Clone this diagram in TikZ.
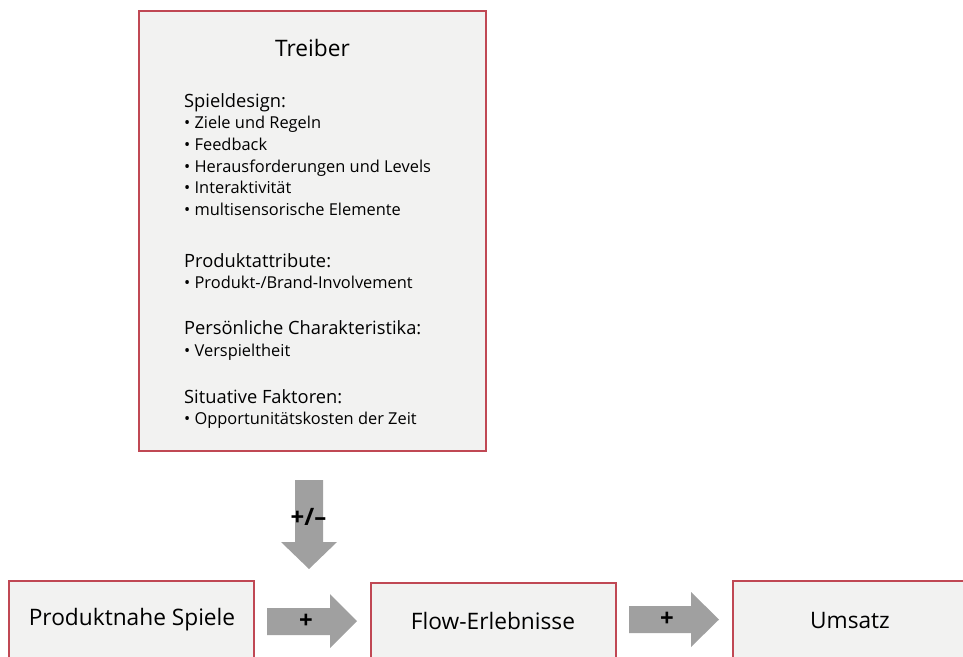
\documentclass[tikz,border=0pt]{standalone}
\usepackage{fontspec}
\setmainfont{Open Sans}
\definecolor{boxred}{RGB}{192,72,84}
\definecolor{boxfill}{RGB}{242,242,241}
\definecolor{arrowgray}{RGB}{160,160,160}
\begin{document}
\begin{tikzpicture}[x=1pt,y=-1pt,
  box/.style={draw=boxred,fill=boxfill,line width=1.4pt},
  blockarrow/.style={fill=arrowgray,draw=none},
  hd/.style={anchor=base west,inner sep=0pt,font=\fontsize{18.3}{22}\selectfont},
  it/.style={anchor=base west,inner sep=0pt,font=\fontsize{16.4}{20}\selectfont},
  big/.style={inner sep=0pt,font=\fontsize{22.7}{27}\selectfont},
  sign/.style={inner sep=0pt,font=\bfseries\fontsize{24}{28}\selectfont}]
\clip (0,0) rectangle (963,656);
% boxes
\draw[box] (139,11) rectangle (486,451);
\draw[box] (9,581) rectangle (254,700);
\draw[box] (371,583) rectangle (616,700);
\draw[box] (733,581) rectangle (980,700);
% texts
\node[big,anchor=base] (treiber) at (312.5,56) {Treiber};
\node[hd] (h1) at (184,107) {Spieldesign:};
\node[it] (b1) at (184,128.5) {• Ziele und Regeln};
\node[it] (b2) at (184,150.3) {• Feedback};
\node[it] (b3) at (184,172.1) {• Herausforderungen und Levels};
\node[it] (b4) at (184,193.9) {• Interaktivität};
\node[it] (b5) at (184,215.7) {• multisensorische Elemente};
\node[hd] (h2) at (184,267) {Produktattribute:};
\node[it] (b6) at (184,288.5) {• Produkt-/Brand-Involvement};
\node[hd] (h3) at (184,334) {Persönliche Charakteristika:};
\node[it] (b7) at (184,356.5) {• Verspieltheit};
\node[hd] (h4) at (184,403) {Situative Faktoren:};
\node[it] (b8) at (184,424.5) {• Opportunitätskosten der Zeit};
\node[big] (spiele) at (132,620) {Produktnahe Spiele};
\node[big] (flow) at (493,620.5) {Flow-Erlebnisse};
\node[big] (umsatz) at (850,620) {Umsatz};
% block arrows
\draw[blockarrow] (295,480) -- (323,480) -- (323,542) -- (337,542) -- (309,569)
  -- (281,542) -- (295,542) -- cycle;
\node[sign] (pm) at (308.5,517) {+/–};
\draw[blockarrow] (267,608) -- (330,608) -- (330,594) -- (357,621) -- (330,648)
  -- (330,635) -- (267,635) -- cycle;
\node[sign] (p1) at (306,621) {+};
\draw[blockarrow] (629,606) -- (691,606) -- (691,592) -- (719,619.5) -- (691,647)
  -- (691,633) -- (629,633) -- cycle;
\node[sign] (p2) at (667,619.5) {+};
\end{tikzpicture}
\end{document}
